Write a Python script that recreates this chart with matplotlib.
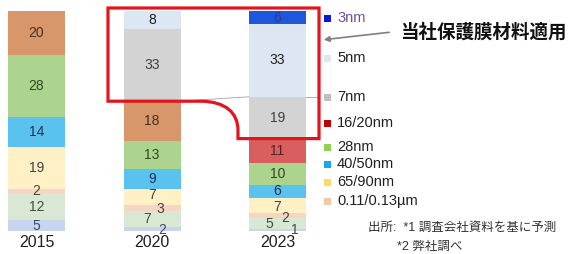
import matplotlib
matplotlib.use("Agg")
import matplotlib.pyplot as plt
import matplotlib.transforms as mtransforms
from matplotlib.patches import Rectangle, PathPatch, FancyArrowPatch
from matplotlib.path import Path

plt.rcParams['font.family'] = ['Liberation Sans', 'Noto Sans CJK JP', 'DejaVu Sans']

# ---------------- data ----------------
years = ["2015", "2020", "2023"]
series_names = ["≥0.18µm", "0.15µm", "0.11/0.13µm", "65/90nm", "40/50nm", "28nm",
                "16/20nm(旧)", "16/20nm", "7nm", "5nm", "3nm"]
v_018 = [5, 2, 1]
v_015 = [12, 7, 5]
v_011 = [2, 3, 2]
v_65 = [19, 7, 7]
v_40 = [14, 9, 6]
v_28 = [28, 13, 10]
v_16old = [20, 18, 0]
v_16 = [0, 0, 11]
v_7 = [0, 33, 19]
v_5 = [0, 8, 33]
v_3 = [0, 0, 6]
values = [v_018, v_015, v_011, v_65, v_40, v_28, v_16old, v_16, v_7, v_5, v_3]

legend_labels = ["3nm", "5nm", "7nm", "16/20nm", "28nm", "40/50nm", "65/90nm", "0.11/0.13µm"]
source_note = ["出所:  *1 調査会社資料を基に予測", "*2 弊社調べ"]
callout = "当社保護膜材料適用"

# ---------------- style ----------------
bar_colors = ["#c9d5ef", "#d9e8d3", "#f7d5c3", "#fff0c6", "#5ac2ef", "#acd48f",
              "#d8966b", "#d85f5f", "#d3d3d3", "#dde7f3", "#1f57dc"]
text_colors = ["#3a4a6a", "#3f4f3f", "#4a4040", "#404040", "#1f3050", "#2f4a20",
               "#4a3020", "#5a2020", "#404040", "#202020", "#2a3d8f"]
legend_colors = ["#0a18d8", "#dde7f3", "#bfbfbf", "#c00000", "#92d050", "#1aa7e8",
                 "#ffd966", "#f4c7aa"]
legend_y_px = [18, 58, 97, 123, 147, 164, 182, 201]
legend_text_colors = ["#6a4fa0"] + ["#202020"] * 7
# label offsets (x in px, y in px) for small segments: (series index, bar index)
label_offsets = {(3, 1): (0, -2), (2, 1): (8, 1), (1, 1): (-5, 0), (0, 1): (10, 1),
                 (3, 2): (0, 1), (2, 2): (8, 2), (1, 2): (-8, 1), (0, 2): (17, 0)}

W, H = 569, 254
fig = plt.figure(figsize=(W / 100, H / 100), dpi=100)
ax = fig.add_axes([0, 0, 1, 1])
ax.set_axis_off()

xpos = [0, 1, 1 + 125.5 / 115.5]
bw = 57 / 115.5
x0 = -36.5 / 115.5
ax.set_xlim(x0, x0 + W / 115.5)
ax.set_ylim(-23 / 2.2, 231 / 2.2)

pix = mtransforms.Affine2D().scale(1 / W, -1 / H).translate(0, 1) + fig.transFigure

bottoms = [0, 0, 0]
for si, vals in enumerate(values):
    bars = ax.bar(xpos, vals, bw, bottom=bottoms, color=bar_colors[si], linewidth=0)
    for bi, v in enumerate(vals):
        if v <= 0:
            continue
        cx = xpos[bi]
        cy = bottoms[bi] + v / 2
        dx, dy = label_offsets.get((si, bi), (0, 0))
        off = mtransforms.ScaledTranslation(dx / 100, -dy / 100, fig.dpi_scale_trans)
        ax.text(cx, cy, str(v), ha="center", va="center", fontsize=10,
                color=text_colors[si], transform=ax.transData + off)
    bottoms = [b + v for b, v in zip(bottoms, vals)]

for bi, y in enumerate(years):
    ax.text(xpos[bi], -5.4, y, ha="center", va="center", fontsize=11.5, color="#202020")

# series connector line (thin)
cum2020 = sum(v[1] for v in values[:7])
cum2023 = sum(v[2] for v in values[:9])
ax.plot([xpos[1] + bw / 2, xpos[2] - bw / 2], [cum2020, cum2023], color="#a0a0a0", lw=0.6)
ax.plot([xpos[2] + bw / 2, xpos[2] + bw / 2 + 13 / 115.5], [cum2023, cum2023], color="#a0a0a0", lw=0.6)

# red outline
left_y = sum(v[1] for v in values[:8])
right_y = sum(v[2] for v in values[:8])
def d2p(x, y):
    px, py = ax.transData.transform((x, y))
    return px, H - py
_, ly = d2p(0, left_y)
_, ry = d2p(0, right_y)
verts = [(108, 8), (319, 8), (319, ry), (238, ry), (238, ry - 8),
         (238, ly + 12), (226, ly), (200, ly), (108, ly), (108, 8)]
codes = [Path.MOVETO, Path.LINETO, Path.LINETO, Path.LINETO, Path.LINETO,
         Path.CURVE4, Path.CURVE4, Path.CURVE4, Path.LINETO, Path.CLOSEPOLY]
box = PathPatch(Path(verts, codes), facecolor="none", edgecolor="#e3141c", lw=2.3,
                transform=pix, joinstyle="miter")
fig.add_artist(box)

# legend
for lab, col, y, tc in zip(legend_labels, legend_colors, legend_y_px, legend_text_colors):
    fig.add_artist(Rectangle((324.5, y - 3.5), 7, 7, facecolor=col, edgecolor="none", transform=pix))
    fig.text(337 / W, 1 - y / H, lab, ha="left", va="center", fontsize=10.5, color=tc)

# callout
fig.text(400 / W, 1 - 32 / H, callout, ha="left", va="center", fontsize=13.3,
         fontweight="bold", color="#111111", family=["Noto Sans CJK JP"])
arr = FancyArrowPatch((392, 32), (321, 40), transform=pix, arrowstyle="-|>",
                      mutation_scale=8, color="#808080", lw=1.2)
fig.add_artist(arr)

# source
fig.text(368 / W, 1 - 228 / H, source_note[0], ha="left", va="center", fontsize=9,
         color="#333333")
fig.text(397 / W, 1 - 247 / H, source_note[1], ha="left", va="center", fontsize=9,
         color="#333333")

fig.savefig("out.png", dpi=100)
